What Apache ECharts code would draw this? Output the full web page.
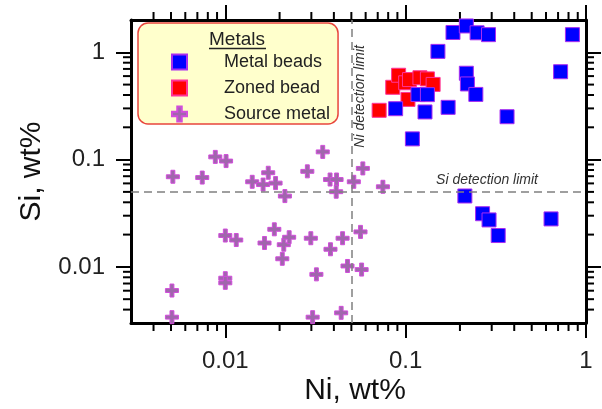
<!DOCTYPE html>
<html>
<head>
<meta charset="utf-8">
<script src="https://cdn.jsdelivr.net/npm/echarts@6/dist/echarts.min.js"></script>
<style>
  html, body { margin: 0; padding: 0; background: #fff; }
  #chart { width: 602px; height: 409px; }
</style>
</head>
<body>
<div id="chart"></div>
<script>
// Ni and Si contents, wt%
const metalBeadsNi = [0.088, 0.117, 0.132, 0.128, 0.172, 0.109, 0.151, 0.183, 0.217, 0.249, 0.288,
  0.217, 0.220, 0.245, 0.365, 0.723, 0.841, 0.213, 0.267, 0.290, 0.326, 0.640];
const metalBeadsSi = [0.298, 0.404, 0.403, 0.278, 0.307, 0.156, 1.02, 1.53, 1.76, 1.52, 1.46,
  0.638, 0.507, 0.405, 0.251, 0.659, 1.46, 0.0458, 0.0313, 0.0274, 0.0196, 0.0280];

const zonedBeadNi = [0.0713, 0.0848, 0.0914, 0.100, 0.105, 0.120, 0.132, 0.142, 0.103];
const zonedBeadSi = [0.288, 0.472, 0.611, 0.520, 0.557, 0.579, 0.565, 0.502, 0.364];

const sourceMetalNi = [0.00512, 0.00745, 0.0088, 0.0101, 0.0141, 0.0162, 0.0173, 0.0190, 0.0214,
  0.0285, 0.0347, 0.0381, 0.0414, 0.0412, 0.0516, 0.0579, 0.0748, 0.0100, 0.0115, 0.0165, 0.0187,
  0.0211, 0.0226, 0.0207, 0.0298, 0.0383, 0.0447, 0.0562, 0.0320, 0.0476, 0.0570, 0.0100, 0.0100,
  0.00506, 0.00506, 0.0305, 0.0439];
const sourceMetalSi = [0.0692, 0.0680, 0.106, 0.0969, 0.0621, 0.0585, 0.0754, 0.0604, 0.0457,
  0.0777, 0.118, 0.0652, 0.0652, 0.0502, 0.0621, 0.0828, 0.0558, 0.0196, 0.0178, 0.0167, 0.0224,
  0.0161, 0.0189, 0.0119, 0.0185, 0.0146, 0.0185, 0.0212, 0.00852, 0.0102, 0.00944, 0.00785, 0.0071,
  0.00602, 0.0034, 0.0034, 0.00373];

const majorTicks = [0.01, 0.1, 1];
const minorTicks = [0.004, 0.005, 0.006, 0.007, 0.008, 0.009,
  0.02, 0.03, 0.04, 0.05, 0.06, 0.07, 0.08, 0.09,
  0.2, 0.3, 0.4, 0.5, 0.6, 0.7, 0.8, 0.9];

const xRange = [0.003, 1];
const yRange = [0.003, 2];

const niDetectionLimit = 0.05;
const siDetectionLimit = 0.05;

const font = '"Liberation Sans", Arial, sans-serif';
const squarePath = 'path://M0,0L10,0L10,10L0,10Z';
const plusPath = 'path://M35,0L65,0L65,35L100,35L100,65L65,65L65,100L35,100L35,65L0,65L0,35L35,35Z';
const minorLen = 8;

const pair = (xs, ys) => xs.map((x, i) => [x, ys[i]]);

// frame side: log scale, thick line and the decade ticks
function logAxis(position, range) {
  return {
    type: 'log',
    logBase: 10,
    position: position,
    min: range[0],
    max: range[1],
    axisLine: { show: true, onZero: false, lineStyle: { color: '#000', width: 3 } },
    axisTick: { show: true, customValues: majorTicks, length: 15, lineStyle: { color: '#000', width: 2 } },
    axisLabel: { show: false },
    splitLine: { show: false }
  };
}

const tickLine = (x1, y1, x2, y2) => ({
  type: 'line',
  shape: { x1: x1, y1: y1, x2: x2, y2: y2 },
  style: { stroke: '#000', lineWidth: 2 }
});

// short ticks between decades, placed through the axes' own scale
function renderMinorX(params, api) {
  const v = api.value(0);
  const lo = api.coord([v, yRange[0]]);
  const hi = api.coord([v, yRange[1]]);
  return {
    type: 'group',
    children: [
      tickLine(lo[0], lo[1], lo[0], lo[1] + minorLen),
      tickLine(hi[0], hi[1], hi[0], hi[1] - minorLen)
    ]
  };
}

function renderMinorY(params, api) {
  const v = api.value(1);
  const lo = api.coord([xRange[0], v]);
  const hi = api.coord([xRange[1], v]);
  return {
    type: 'group',
    children: [
      tickLine(lo[0], lo[1], lo[0] - minorLen, lo[1]),
      tickLine(hi[0], hi[1], hi[0] + minorLen, hi[1])
    ]
  };
}

const chart = echarts.init(document.getElementById('chart'));

const xMain = logAxis('bottom', xRange);
xMain.axisLabel = {
  show: true, customValues: majorTicks, formatter: v => String(v),
  margin: 26, fontSize: 24, color: '#222', fontFamily: font
};

const yMain = logAxis('left', yRange);
yMain.axisLabel = {
  show: true, customValues: majorTicks, formatter: v => String(v),
  margin: 26, fontSize: 24, color: '#222', fontFamily: font
};
yMain.name = 'Si, wt%';
yMain.nameLocation = 'middle';
yMain.nameGap = 84;
yMain.nameTextStyle = { fontSize: 30, color: '#111', fontFamily: font };

const option = {
  animation: false,
  grid: { left: 131, right: 16, top: 20, bottom: 86 },
  xAxis: [xMain, logAxis('top', xRange)],
  yAxis: [yMain, logAxis('right', yRange)],
  legend: {
    orient: 'vertical',
    left: 138,
    top: 23,
    data: [
      { name: 'Metal beads', icon: squarePath },
      { name: 'Zoned bead', icon: squarePath },
      { name: 'Source metal', icon: plusPath }
    ],
    itemWidth: 15,
    itemHeight: 15,
    itemGap: 8,
    padding: [30, 8, 1, 33],
    backgroundColor: '#ffffcc',
    borderColor: '#e8453c',
    borderWidth: 1.5,
    borderRadius: 10,
    selectedMode: false,
    textStyle: { fontSize: 18, color: '#222', fontFamily: font, lineHeight: 15, padding: [0, 0, 0, 32] }
  },
  graphic: [
    {
      type: 'text', x: 237, y: 40, z: 100,
      style: { text: 'Metals', fontSize: 19, fontFamily: font, fill: '#222', align: 'center', verticalAlign: 'middle' }
    },
    {
      type: 'line', z: 100,
      shape: { x1: 209, y1: 48.5, x2: 266, y2: 48.5 },
      style: { stroke: '#222', lineWidth: 1.5 }
    },
    {
      // x axis title
      type: 'text', x: 355, y: 391, z: 100,
      style: { text: 'Ni, wt%', fontSize: 30, fontFamily: font, fill: '#111', align: 'center', verticalAlign: 'middle' }
    }
  ],
  series: [
    {
      name: 'Metal beads',
      type: 'scatter',
      data: pair(metalBeadsNi, metalBeadsSi),
      symbol: squarePath,
      symbolSize: 14,
      z: 3,
      itemStyle: { color: '#0000ff', borderColor: '#a92cf0', borderWidth: 1, opacity: 1 },
      markLine: {
        silent: true,
        symbol: 'none',
        lineStyle: { color: '#808080', type: [8, 5], width: 1.5 },
        label: { fontStyle: 'italic', fontSize: 14, color: '#333', fontFamily: font },
        data: [
          { xAxis: niDetectionLimit, label: { formatter: 'Ni detection limit', position: 'insideEndBottom', distance: [25, 2] } },
          { yAxis: siDetectionLimit, label: { formatter: 'Si detection limit', position: 'insideEndTop', distance: [48, 5] } }
        ]
      }
    },
    {
      name: 'Zoned bead',
      type: 'scatter',
      data: pair(zonedBeadNi, zonedBeadSi),
      symbol: squarePath,
      symbolSize: 14,
      z: 2,
      itemStyle: { color: '#ff0000', borderColor: '#ff3399', borderWidth: 1, opacity: 1 }
    },
    {
      name: 'Source metal',
      type: 'scatter',
      data: pair(sourceMetalNi, sourceMetalSi),
      symbol: plusPath,
      symbolSize: 13,
      z: 2,
      itemStyle: { color: '#a066ac', borderColor: '#d24ddc', borderWidth: 1, opacity: 1 }
    },
    {
      type: 'custom',
      clip: false,
      data: minorTicks.map(v => [v, yRange[0]]),
      renderItem: renderMinorX
    },
    {
      type: 'custom',
      clip: false,
      data: minorTicks.filter(v => v < yRange[1]).map(v => [xRange[0], v]),
      renderItem: renderMinorY
    }
  ]
};

chart.setOption(option);
</script>
</body>
</html>
